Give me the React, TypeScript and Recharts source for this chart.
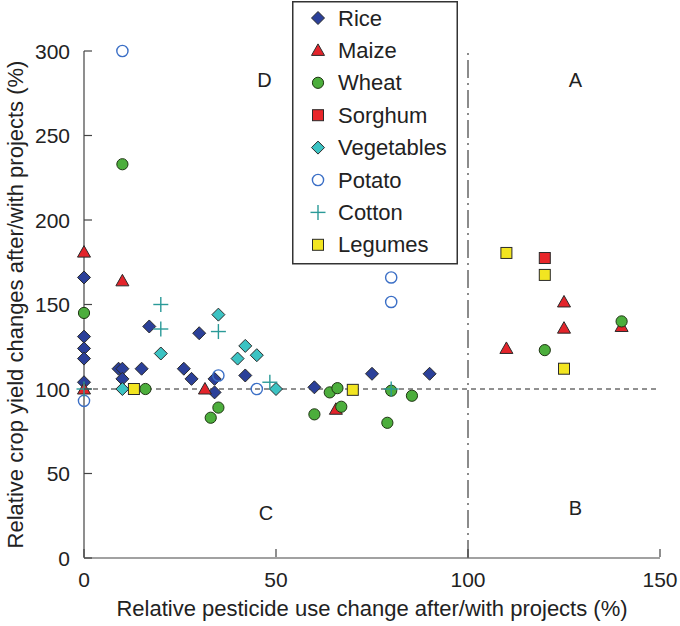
import React from 'react';
import { ScatterChart, Scatter, XAxis, YAxis, ReferenceLine, ReferenceDot, Legend } from 'recharts';

type Pt = [number, number];

const rice: Pt[] = [[0,166],[0,131],[0,124],[0,118],[0,104],[9,112],[10,112],[10,106],[15,112],[17,137],[26,112],[28,106],[30,133],[34,106],[34,98],[42,108],[60,101],[75,109],[90,109]];
const maize: Pt[] = [[0,181],[0,100],[10,164],[31.5,100],[65.6,88],[110,124],[125,151.5],[125,136],[140,137]];
const wheat: Pt[] = [[0,145],[10,233],[16,100],[33,83],[35,89],[60,85],[64,98],[66,100.5],[67,89.5],[79,80],[80,99],[85.4,96],[120,123],[140,140]];
const sorghum: Pt[] = [[120,177.5]];
const vegetables: Pt[] = [[10,100],[20,121],[35,144],[40,118],[42,125.5],[45,120],[50,100]];
const potato: Pt[] = [[0,93],[10,300],[35,108],[45,100],[80,166],[80,151.5]];
const cotton: Pt[] = [[0,100],[20,150],[20,135.5],[35,134],[48.4,104],[80,100]];
const legumes: Pt[] = [[13,100],[70,99.5],[110,180.5],[120,167.5],[125,112]];

const xTicks = [0, 50, 100, 150];
const yTicks = [0, 50, 100, 150, 200, 250, 300];
const quadrantLabels: { x: number; y: number; text: string }[] = [
  { x: 47, y: 283, text: 'D' },
  { x: 128, y: 283, text: 'A' },
  { x: 47.4, y: 26.6, text: 'C' },
  { x: 128, y: 29.6, text: 'B' },
];

const xTitle = 'Relative pesticide use change after/with projects (%)';
const yTitle = 'Relative crop yield changes after/with projects (%)';

const FONT = '"Liberation Sans", Arial, Helvetica, sans-serif';
const EDGE = '#2a2a2a';

const diamond = (fill: string) => (cx: number, cy: number) => (
  <polygon points={`${cx},${cy - 6.5} ${cx + 6.5},${cy} ${cx},${cy + 6.5} ${cx - 6.5},${cy}`} fill={fill} stroke={EDGE} strokeWidth={1} />
);
const triangle = (fill: string) => (cx: number, cy: number) => (
  <polygon points={`${cx},${cy - 6.5} ${cx + 6.5},${cy + 5} ${cx - 6.5},${cy + 5}`} fill={fill} stroke={EDGE} strokeWidth={1} />
);
const circle = (fill: string) => (cx: number, cy: number) => (
  <circle cx={cx} cy={cy} r={5.6} fill={fill} stroke="#1e3512" strokeWidth={1} />
);
const square = (fill: string) => (cx: number, cy: number) => (
  <rect x={cx - 5.5} y={cy - 5.5} width={11} height={11} fill={fill} stroke={EDGE} strokeWidth={1} />
);
const openCircle = (color: string) => (cx: number, cy: number) => (
  <circle cx={cx} cy={cy} r={5.6} fill="none" stroke={color} strokeWidth={1.4} />
);
const cross = (color: string) => (cx: number, cy: number) => (
  <g stroke={color} strokeWidth={1.4}>
    <line x1={cx - 7.5} x2={cx + 7.5} y1={cy} y2={cy} />
    <line x1={cx} x2={cx} y1={cy - 7.5} y2={cy + 7.5} />
  </g>
);

const SERIES = [
  { name: 'Rice', data: rice, draw: diamond('#2b4099') },
  { name: 'Maize', data: maize, draw: triangle('#e3242b') },
  { name: 'Wheat', data: wheat, draw: circle('#4cae3c') },
  { name: 'Sorghum', data: sorghum, draw: square('#e8262a') },
  { name: 'Vegetables', data: vegetables, draw: diamond('#3cc3c3') },
  { name: 'Potato', data: potato, draw: openCircle('#3b6fc6') },
  { name: 'Cotton', data: cotton, draw: cross('#2a9a98') },
  { name: 'Legumes', data: legumes, draw: square('#f2e521') },
];

const YTick = (props: any) => {
  const { x, y, payload } = props;
  return (
    <g>
      <line x1={x + 14} x2={x + 22} y1={y} y2={y} stroke="#444" strokeWidth={1.2} />
      <text x={x} y={y} textAnchor="end" dominantBaseline="central" fontSize={21} fontFamily={FONT} fill="#222">
        {payload.value}
      </text>
    </g>
  );
};

const XTick = (props: any) => {
  const { x, y, payload } = props;
  return (
    <g>
      <line x1={x} x2={x} y1={y - 15} y2={y - 23} stroke="#444" strokeWidth={1.2} />
      <text x={x} y={y} dy="0.71em" textAnchor="middle" fontSize={21} fontFamily={FONT} fill="#222">
        {payload.value}
      </text>
    </g>
  );
};

const renderLegend = () => (
  <svg width={167} height={264} style={{ display: 'block' }}>
    <rect x={0.75} y={0.75} width={164.5} height={262} fill="#fff" stroke="#333" strokeWidth={1.5} />
    {SERIES.map((s, i) => {
      const cy = 17 + i * 32.4;
      return (
        <g key={s.name}>
          {s.draw(26, cy)}
          <text x={46} y={cy} dominantBaseline="central" fontSize={22} fontFamily={FONT} fill="#222">
            {s.name}
          </text>
        </g>
      );
    })}
  </svg>
);

export default function App() {
  return (
    <div style={{ position: 'absolute', left: 0, top: 0, width: 680, height: 626, background: '#fff' }}>
      <ScatterChart width={680} height={626} margin={{ top: 51, right: 20, bottom: 0, left: 0 }}>
        <XAxis
          type="number"
          dataKey="x"
          domain={[0, 150]}
          ticks={xTicks}
          height={68}
          tickSize={0}
          tickMargin={14}
          tick={<XTick />}
          axisLine={{ stroke: '#444', strokeWidth: 1.2 }}
          interval={0}
          label={{
            content: (p: any) => {
              const vb = p.viewBox;
              return (
                <text x={vb.x + vb.width / 2} y={vb.y + 50} textAnchor="middle" dominantBaseline="central" fontSize={22} fontFamily={FONT} fill="#222">
                  {xTitle}
                </text>
              );
            },
          }}
        />
        <YAxis
          type="number"
          dataKey="y"
          domain={[0, 300]}
          ticks={yTicks}
          width={84}
          tickSize={0}
          tickMargin={14}
          tick={<YTick />}
          axisLine={{ stroke: '#444', strokeWidth: 1.2 }}
          interval={0}
          label={{
            content: (p: any) => {
              const vb = p.viewBox;
              const cx = vb.x + 15;
              const cy = vb.y + vb.height / 2;
              return (
                <text x={cx} y={cy} transform={`rotate(-90 ${cx} ${cy})`} textAnchor="middle" dominantBaseline="central" fontSize={22} fontFamily={FONT} fill="#222">
                  {yTitle}
                </text>
              );
            },
          }}
        />
        <ReferenceLine y={100} stroke="#222" strokeWidth={1} strokeDasharray="5 4" />
        <ReferenceLine x={100} stroke="#666" strokeWidth={1.5} strokeDasharray="18 5 2 5" />
        {quadrantLabels.map((q) => (
          <ReferenceDot
            key={q.text}
            x={q.x}
            y={q.y}
            r={0}
            fill="none"
            stroke="none"
            label={{ value: q.text, position: 'center', fontSize: 20, fontFamily: FONT, fill: '#222' }}
          />
        ))}
        {SERIES.map((s) => (
          <Scatter
            key={s.name}
            name={s.name}
            data={s.data.map(([x, y]) => ({ x, y }))}
            isAnimationActive={false}
            shape={(p: any) => s.draw(p.cx, p.cy)}
          />
        ))}
        <Legend
          layout="horizontal"
          verticalAlign="middle"
          align="center"
          content={renderLegend}
          wrapperStyle={{ position: 'absolute', top: 1, left: 292, width: 167, height: 264 }}
        />
      </ScatterChart>
    </div>
  );
}
